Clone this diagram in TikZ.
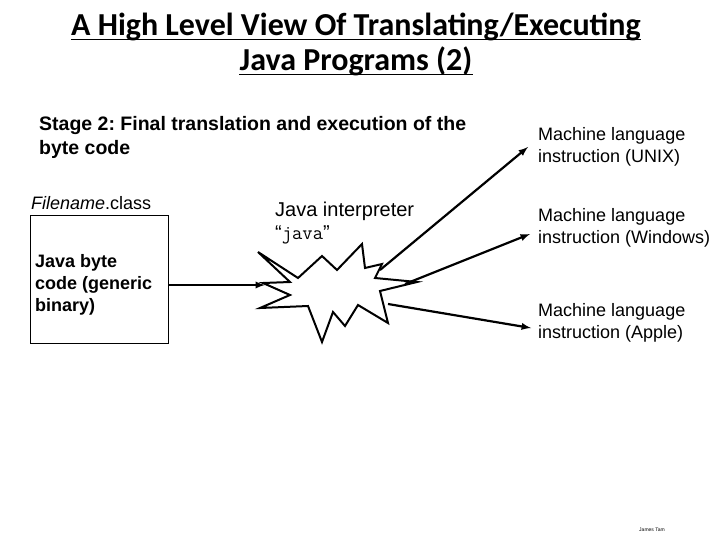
\documentclass[tikz,border=0pt]{standalone}
\usepackage{fontspec}
\setmainfont{Liberation Sans}
\newfontfamily\carlitofont{Carlito}
\frenchspacing
\begin{document}
\begin{tikzpicture}[x=1pt,y=-1pt,
 txt/.style={anchor=north west,inner sep=0pt,font=\fontsize{18}{22}\selectfont,align=left},
 ttl/.style={anchor=base,inner sep=0pt,font=\carlitofont\bfseries\fontsize{32}{36}\selectfont},
 arr/.style={line width=2.2pt,-latex}]
\useasboundingbox (0,0) rectangle (720,540);
\node[ttl] (t1) at (356,36) {A High Level View Of Translating/Executing};
\node[ttl] (t2) at (356,71) {Java Programs (2)};
\draw[line width=1.6pt] ([yshift=-3.5pt]t1.base west) -- ([yshift=-3.5pt]t1.base east);
\draw[line width=1.6pt] ([yshift=-3.5pt]t2.base west) -- ([yshift=-3.5pt]t2.base east);
\node[txt,font=\bfseries\fontsize{19.5}{24}\selectfont] (stage) at (39,116) {Stage 2: Final translation and execution of the\\byte code};
\node[txt] (fname) at (31,196) {\textit{Filename}.class};
\draw[thick] (30,215) rectangle (168,343);
\node[txt,font=\bfseries\fontsize{18}{22}\selectfont] (byte) at (35,254) {Java byte\\code (generic\\binary)};
\coordinate (boxr) at (168,285);
\node[txt,font=\fontsize{20}{23}\selectfont] (interp) at (275,202) {Java interpreter\\“\texttt{java}”};
\draw[line width=2pt,fill=white] (258,252)--(298,278)--(322,256)--(337,270)--(362,244)--(365,268)--(382,264)--(375,278)--(417,282)--(380,291)--(388,323)--(358,305)--(345,326)--(333,312)--(322,342)--(308,306)--(260,308)--(290,295)--(263,283)--(290,282)--cycle;
\coordinate (starL) at (265,285);
\coordinate (starA) at (380,270);
\coordinate (starB) at (405,284);
\coordinate (starC) at (388,304);
\node[txt] (m1) at (538,127) {Machine language\\instruction (UNIX)};
\node[txt] (m2) at (538,208) {Machine language\\instruction (Windows)};
\node[txt] (m3) at (538,303) {Machine language\\instruction (Apple)};
\draw[arr] (boxr) -- (starL);
\draw[arr] (starA) -- (528,147);
\draw[arr] (starB) -- (530,234);
\draw[arr] (starC) -- (531,328);
\node[anchor=center,font=\fontsize{5}{6}\selectfont\rmfamily,inner sep=0pt] (auth) at (652,530) {James Tam};
\end{tikzpicture}
\end{document}
